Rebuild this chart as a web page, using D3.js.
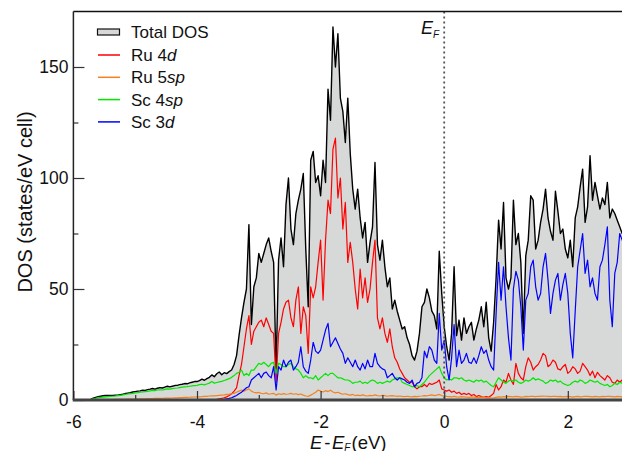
<!DOCTYPE html>
<html><head><meta charset="utf-8">
<script src="https://cdn.jsdelivr.net/npm/d3@7"></script>
<style>body{margin:0;background:#fff;} svg{display:block;} text{font-family:"Liberation Sans",Arial,Helvetica,sans-serif;fill:#111;}</style>
</head><body><svg id="c" width="622" height="451"></svg>
<script>
// energy grid (eV, relative to E_F)
const eStart = -6, eStep = 0.04;

const totalDOS = [
0,0,0,0,0,0,0,0.3,0.8,1.2,
1.5,1.7,1.9,2.0,2.0,2.1,2.1,2.2,2.2,2.4,
2.6,2.9,3.1,3.3,3.6,3.8,4.0,4.1,4.4,4.3,
4.7,4.9,5.2,4.9,5.3,5.6,5.4,5.8,6.2,5.9,
6.2,6.5,6.6,6.9,7.1,7.4,7.3,7.7,8.0,8.3,
8.3,8.7,9.4,8.9,9.6,10.2,11.3,10.5,11.8,12.6,
11.4,12.3,11.9,12.8,13.5,16.0,20,29,37,44,
50,79,34,51,55,66,62,66,70,73,
67,62,14,63,73,60,88,100,77,70,
84,90,95,102,68,42,108,112,98,101,
92,108,98,140,126,168,150,165,136,130,
116,136,111,95,86,95,82,73,80,62,
71,78,107,70,63,72,60,51,55,41,
45,40,36,32,33,28,25,20,18,22,
30,42,44,50,46,40,38,32,67,48,
33,24,18,30,60,29,36,27,37,30,
33,35,27,32,36,42,33,44,28,22,
35,55,81,68,89,55,50,55,90,70,
75,62,30,65,72,92,90,68,72,80,
86,95,82,76,72,94,85,75,77,68,
64,72,60,82,87,96,104,80,87,110,
90,98,92,86,91,88,98,82,86,84,
81,78,75,74,76];

const ru4d = [
0,0,0,0,0,0,0,0,0,0,
0,0,0,0,0,0,0,0,0,0,
0,0,0,0,0,0,0,0,0,0,
0,0,0,0,0,0,0,0,0,0,
0,0,0,0,0,0,0,0,0,0,
0,0,0,0,0,0.1,0.1,0.2,0.3,0.5,
0.7,1.0,1.4,2.0,2.8,4.0,5.5,11,16,24,
32,38,25,31,33,35,36,33,37,34,
31,30,8,30,35,41,44,45,37,33,
45,51,30,42,38,21,51,46,51,62,
72,45,72,90,84,113,118,91,100,77,
89,62,71,62,50,41,59,46,55,44,
50,62,72,37,32,37,30,26,32,24,
19,17,14,12,10,9,8,8,6,5,
6,6,7,6,7.5,7,7.5,8,9,5,
4.5,4,4.5,3.5,4,3,3.5,2.5,3,2.5,
3,2,2.5,1.5,2,1.5,1.2,1.5,1.2,2,
3,7,4.5,6,9,8,12,9,7,16.5,
12,10,9,15,19,17,13.5,15,16,18,
21,20,15,16,18,17,14,13.5,15,16,
12,13,15,14,12,13,16.5,15,13.5,11,
13,10,12.5,11,10,9,11,10,8,7.5,
9,8,9,8.5,8];

const ru5sp = [
0,0,0,0,0,0,0,0.05,0.08,0.1,
0.1,0.12,0.14,0.16,0.18,0.2,0.22,0.24,0.26,0.28,
0.3,0.33,0.36,0.39,0.42,0.45,0.48,0.5,0.53,0.56,
0.6,0.63,0.66,0.69,0.72,0.75,0.78,0.8,0.84,0.87,
0.9,0.95,1.0,1.05,1.1,1.15,1.2,1.25,1.3,1.35,
1.4,1.45,1.5,1.6,1.65,1.8,1.85,1.9,2.0,2.1,
2.2,2.3,2.5,2.6,2.8,3.0,3.5,4,4.5,4,
4.5,5,4,3.5,3.2,3.4,3,2.8,3.2,2.6,
2.8,3,2.2,2.8,2.5,2.9,2.6,2.7,3.0,2.6,
2.8,2.4,2.7,2.2,1.8,1.6,2.2,2.8,3.5,4.5,
4,3.6,4.2,3.8,4.4,3.6,3.2,3.5,3.0,2.6,
2.8,2.4,2.2,2.5,2.0,2.2,2.0,2.3,2.0,1.8,
2.1,1.9,2.3,2.0,1.8,2.1,2.0,1.7,1.9,2.0,
1.8,1.6,1.8,1.6,1.5,1.7,1.5,1.4,1.6,1.5,
1.7,1.8,2.0,1.9,2.1,2.3,2.0,2.2,2.5,2.0,
1.8,1.6,1.5,1.4,1.6,1.4,1.3,1.5,1.4,1.3,
1.2,1.4,1.3,1.2,1.1,1.3,1.2,1.0,1.1,0.9,
1.0,1.2,1.4,1.3,1.5,1.4,1.6,1.5,1.4,1.6,
1.5,1.3,1.4,1.6,1.5,1.7,1.6,1.5,1.7,1.6,
1.8,1.7,1.6,1.5,1.7,1.6,1.5,1.6,1.4,1.5,
1.6,1.5,1.3,1.5,1.6,1.4,1.5,1.7,1.6,1.5,
1.4,1.6,1.5,1.4,1.6,1.5,1.7,1.6,1.5,1.4,
1.6,1.5,1.4,1.5,1.6];

const sc4sp = [
0,0,0,0,0,0,0,0.2,0.5,0.8,
1.0,1.2,1.3,1.4,1.5,1.6,1.7,1.8,2.0,2.1,
2.3,2.5,2.7,2.9,3.0,3.2,3.3,3.5,3.6,3.8,
3.9,4.1,4.3,4.2,4.5,4.6,4.5,4.8,5.0,4.9,
5.1,5.3,5.4,5.6,5.8,5.9,6.0,6.2,6.4,6.5,
6.6,6.9,7.1,6.8,7.2,7.6,8.3,7.6,7.9,8.2,
8.4,8.8,9.2,9.6,10.2,11.0,12.0,12.5,13.5,11,
12,11,13.5,13.5,15,16.5,16,17,16,15,
16.5,17,12,16.5,16,15,15,16,16.5,15,
14,13.5,12,10,11,10,10,9.5,11,9,
10,11,12,11,12,12,11,10,10,9.5,
9,9,8.5,7.5,8,8,8.5,7.5,8,7.5,
8.5,9,8.5,7.5,8,7.5,8,8.5,8,9,
9.5,10,10,8,7.5,7,6.5,6,6,6.5,
6,7,8,9.5,11,12,13,14,15,12,
10,9,9.5,9,10,10,9.5,10,9,8.5,
9,8.5,8,9,8.5,9,8,8.5,7.5,6.5,
6,8,10,9,8,7.5,8.5,9,8.5,9,
8,7.5,8,9,8.5,9,10,9,9.5,9,
8.5,7.5,8,9,8.5,9,8,8.5,7.5,7,
6.5,7,8,8.5,8,9,8.5,7.5,8,9,
8.5,8,8.5,7.5,7,6.5,7,6,6.5,7.5,
7,8,7.5,7,7.5];

const sc3d = [
0,0,0,0,0,0,0,0,0,0,
0,0,0,0,0,0,0,0,0,0,
0,0,0,0,0,0,0,0,0,0,
0,0,0,0,0,0,0,0,0,0,
0,0,0,0,0,0,0,0,0,0,
0,0,0,0,0,0,0,0,0,0,
0.2,0.3,0.5,0.7,1.0,1.5,2.0,2.8,3.5,4.5,
5.5,6,9,10,11,12,10,12,12.6,11,
10,15,4.5,15,13.5,18,15,17,18,13.5,
15,17,24,15,13,12,18,26,22,21,
22.5,27,31.5,34.5,24,26,28,25.5,23,21,
16.5,19,17,15,18,15,13.5,16.5,14,18,
15,15,21,16.5,15,14,13.5,10,11,12,
10,9,10,9.5,9,8,7.5,9,6,7.5,
8,10,22,19,24,22.5,18,16.5,39,22.5,
27,15,9,19,34,15,22.5,16.5,18,21,
17,16.5,19,16.5,20,24,21,22.5,18,15,
13.5,39,62,45,60,42,28,18,50,58,
54,42,22.5,45,48,60,63,51,45,48,
60,66,54,39,48,54,57,45,52,57,
48,30,19,40,60,67.5,75,57,63,51,
55,48,45,60,63,70,78,45,33,57,
62,75,72,70,68];

const xTicks = [-6,-4,-2,0,2];
const xMinorTicks = [-5,-3,-1,1];
const yTicks = [0,50,100,150];
const yMinorTicks = [25,75,125];

const energies = d3.range(totalDOS.length).map(i => +(eStart + i*eStep).toFixed(2));

const series = [
  {pre:"Ru 4", it:"d", values: ru4d, color:"#ff0000"},
  {pre:"Ru 5", it:"sp", values: ru5sp, color:"#f5821f"},
  {pre:"Sc 4", it:"sp", values: sc4sp, color:"#00e800"},
  {pre:"Sc 3", it:"d", values: sc3d, color:"#0000ff"}
];

const svg = d3.select("#c");
const L = 73.4, T = 11.5, B = 400, R = 622;
const x = d3.scaleLinear().domain([-6,3]).range([L, L + 9*61.8]);
const y = d3.scaleLinear().domain([0,175]).range([B, T]);

svg.append("defs").append("clipPath").attr("id","clip")
  .append("rect").attr("x",L).attr("y",T).attr("width",R-L+10).attr("height",B-T);

const plot = svg.append("g").attr("clip-path","url(#clip)");

const area = d3.area().x((d,i)=>x(energies[i])).y0(y(0)).y1(d=>y(d));
const line = d3.line().x((d,i)=>x(energies[i])).y(d=>y(d));

plot.append("path").datum(totalDOS).attr("d",area).attr("fill","#d7d8d8");
plot.append("path").datum(totalDOS).attr("d",line).attr("fill","none")
  .attr("stroke","#000").attr("stroke-width",1.4).attr("stroke-linejoin","round");

series.forEach(s=>{
  plot.append("path").datum(s.values).attr("d",line).attr("fill","none")
    .attr("stroke",s.color).attr("stroke-width",1.2).attr("stroke-linejoin","round");
});

// Fermi level
svg.append("line").attr("x1",x(0)).attr("x2",x(0)).attr("y1",T).attr("y2",B)
  .attr("stroke","#555").attr("stroke-width",1.8).attr("stroke-dasharray","2,3");
const ef = svg.append("text").attr("x",421).attr("y",34).style("font-size","18px").style("font-style","italic");
ef.append("tspan").text("E");
ef.append("tspan").attr("dy",4).style("font-size","10px").text("F");

// axes
const yAxis = d3.axisLeft(y).tickValues(yTicks).tickSizeInner(-11).tickSizeOuter(0).tickPadding(5);
const yMinor = d3.axisLeft(y).tickValues(yMinorTicks).tickSizeInner(-5).tickSizeOuter(0).tickFormat("");
const xAxis = d3.axisBottom(x).tickValues(xTicks).tickSizeInner(-9).tickSizeOuter(0).tickPadding(16)
  .tickFormat(d=>d<0?"-"+Math.abs(d):d);
const xMinor = d3.axisBottom(x).tickValues(xMinorTicks).tickSizeInner(-5).tickSizeOuter(0).tickFormat("");

function styleAxis(g){
  g.select(".domain").remove();
  g.selectAll(".tick line").attr("stroke","#333").attr("stroke-width",1.2);
  g.selectAll(".tick text").style("font-size","17.5px").style("font-family","'Liberation Sans',Arial,sans-serif").attr("fill","#111");
}
svg.append("g").attr("transform",`translate(${L},0)`).call(yAxis).call(styleAxis);
svg.append("g").attr("transform",`translate(${L},0)`).call(yMinor).call(styleAxis);
svg.append("g").attr("transform",`translate(0,${B})`).call(xAxis).call(styleAxis);
svg.append("g").attr("transform",`translate(0,${B})`).call(xMinor).call(styleAxis);

// frame
svg.append("line").attr("x1",L).attr("x2",R).attr("y1",T).attr("y2",T).attr("stroke","#111").attr("stroke-width",1.5);
svg.append("line").attr("x1",L).attr("x2",L).attr("y1",T).attr("y2",B).attr("stroke","#222").attr("stroke-width",1.5);
svg.append("line").attr("x1",L-0.7).attr("x2",R).attr("y1",B).attr("y2",B).attr("stroke","#444").attr("stroke-width",2.8);

// axis titles
const xt = svg.append("text").attr("x",310).attr("y",448.5).style("font-size","18.5px");
xt.append("tspan").style("font-style","italic").text("E");
xt.append("tspan").attr("dx",2).text("-");
xt.append("tspan").attr("dx",1.5).style("font-style","italic").text("E");
xt.append("tspan").attr("dy",2).style("font-size","10px").style("font-style","italic").text("F");
xt.append("tspan").attr("dy",-2).attr("dx",1).text("(eV)");

svg.append("text").attr("transform","translate(32,202) rotate(-90)").attr("text-anchor","middle")
  .style("font-size","20px").text("DOS (states/eV cell)");

// legend
const lg = svg.append("g");
lg.append("rect").attr("x",97.5).attr("y",29).attr("width",22).attr("height",6)
  .attr("fill","#d7d8d8").attr("stroke","#111").attr("stroke-width",1.2);
lg.append("text").attr("x",131).attr("y",38).style("font-size","17px").text("Total DOS");
series.forEach((s,i)=>{
  const yy = 55 + i*22.3;
  lg.append("line").attr("x1",98).attr("x2",120).attr("y1",yy).attr("y2",yy)
    .attr("stroke",s.color).attr("stroke-width",1.5);
  const t = lg.append("text").attr("x",131).attr("y",yy+6).style("font-size","17px");
  t.append("tspan").text(s.pre);
  t.append("tspan").style("font-style","italic").text(s.it);
});
</script>
</body></html>
